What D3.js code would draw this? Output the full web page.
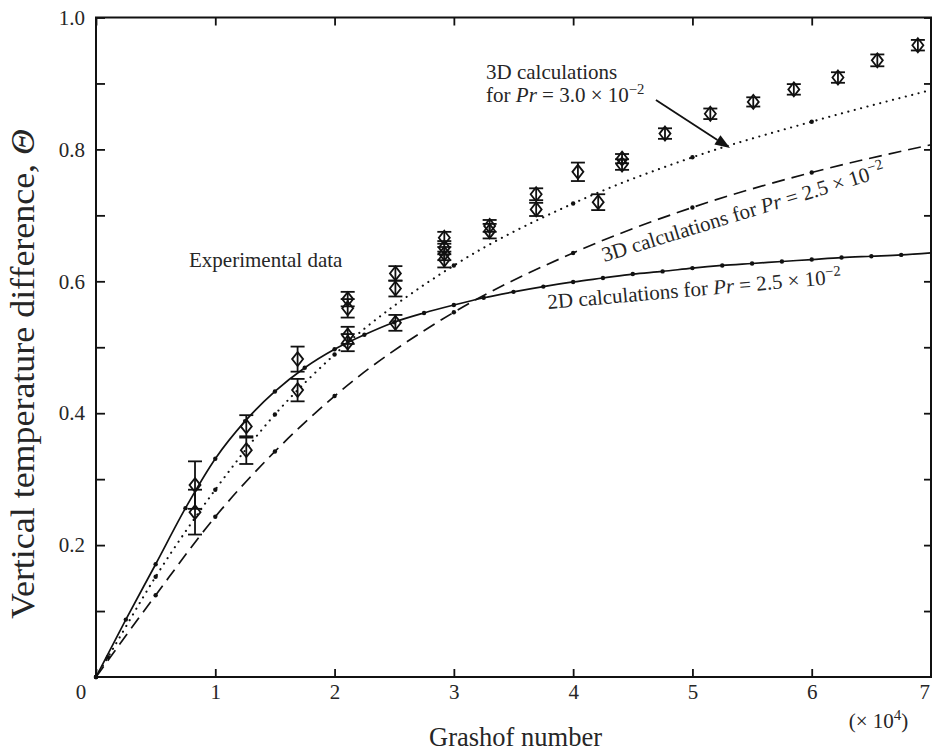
<!DOCTYPE html>
<html><head><meta charset="utf-8">
<script src="https://cdn.jsdelivr.net/npm/d3@7"></script>
<style>
body{margin:0;background:#fff;}
svg{display:block;}
text{font-family:"Liberation Serif","Times New Roman",serif;fill:#262626;}
</style>
</head><body><svg id="chart" width="932" height="751"></svg>
<script>
// ---- data ----
const xTicks = [0,1,2,3,4,5,6,7];
const xTickLabels = ["", "1", "2", "3", "4", "5", "6", "7"];
const yTicks = [0.1,0.2,0.3,0.4,0.5,0.6,0.7,0.8,0.9,1.0];
const yTickLabels = ["", "0.2", "", "0.4", "", "0.6", "", "0.8", "", "1.0"];

// 2D calculations, Pr = 2.5e-2 (solid)
const grSolid = [0,0.25,0.5,0.75,1.0,1.25,1.5,1.75,2.0,2.25,2.5,2.75,3.0,3.25,3.5,3.75,4.0,4.25,4.5,4.75,5.0,5.25,5.5,5.75,6.0,6.25,6.5,6.75,7.0];
const thetaSolid = [0,0.087,0.171,0.256,0.331,0.388,0.433,0.469,0.497,0.519,0.538,0.552,0.564,0.575,0.584,0.592,0.599,0.605,0.611,0.615,0.620,0.624,0.627,0.630,0.633,0.636,0.638,0.640,0.643];
// 3D calculations, Pr = 3.0e-2 (dotted)
const grDotted = [0,0.1,0.5,1.0,1.5,2.0,3.0,4.0,5.0,6.0,7.0];
const thetaDotted = [0,0.03,0.152,0.284,0.398,0.489,0.624,0.718,0.788,0.842,0.89];
// 3D calculations, Pr = 2.5e-2 (dashed)
const grDashed = [0,0.5,1.0,1.5,2.0,3.0,4.0,5.0,6.0,7.0];
const thetaDashed = [0,0.124,0.243,0.342,0.426,0.553,0.643,0.712,0.765,0.807];

// Experimental data (diamonds with error bars)
const expGr = [0.83,0.83,1.26,1.26,1.69,1.69,2.11,2.11,2.11,2.11,2.51,2.51,2.51,2.92,2.92,2.92,2.92,3.30,3.30,3.69,3.69,4.04,4.21,4.41,4.41,4.77,5.15,5.51,5.85,6.22,6.55,6.89];
const expTheta = [0.291,0.250,0.380,0.344,0.482,0.435,0.573,0.559,0.518,0.507,0.612,0.589,0.537,0.666,0.651,0.642,0.633,0.684,0.676,0.732,0.709,0.766,0.720,0.786,0.777,0.824,0.854,0.872,0.891,0.909,0.935,0.958];
const expErr = [0.036,0.034,0.017,0.021,0.019,0.017,0.011,0.014,0.013,0.013,0.011,0.012,0.012,0.009,0.010,0.010,0.012,0.009,0.011,0.009,0.010,0.014,0.012,0.007,0.008,0.008,0.008,0.007,0.008,0.008,0.009,0.008];

// ---- chart ----
const svg = d3.select("#chart");
const x = d3.scaleLinear().domain([0,7]).range([96,931]);
const y = d3.scaleLinear().domain([0,1]).range([677,17.5]);
const FONT = '"Liberation Serif","Times New Roman",serif';

function styleAxis(g){
  g.select(".domain").remove();
  g.attr("font-family", FONT).attr("font-size", 21);
  g.selectAll(".tick line").attr("stroke","#111").attr("stroke-width",1.8);
  g.selectAll(".tick text").attr("fill","#262626");
}

const gb = svg.append("g").attr("transform",`translate(0,${y(0)})`)
  .call(d3.axisBottom(x).tickValues(xTicks).tickSize(-8).tickSizeOuter(0).tickPadding(7)
    .tickFormat((d,i)=>xTickLabels[i]))
  .call(styleAxis);
// last label sits at the window edge: keep it inside
gb.selectAll(".tick text").filter(d=>d===7).attr("text-anchor","end").attr("dx",-1.5);

svg.append("g").attr("transform",`translate(0,${y(1)})`)
  .call(d3.axisTop(x).tickValues(xTicks).tickSize(-8).tickSizeOuter(0).tickFormat(""))
  .call(styleAxis);
svg.append("g").attr("transform",`translate(${x(0)},0)`)
  .call(d3.axisLeft(y).tickValues(yTicks).tickSize(-9).tickSizeOuter(0).tickPadding(11)
    .tickFormat((d,i)=>yTickLabels[i]))
  .call(styleAxis);
svg.append("g").attr("transform",`translate(${x(7)},0)`)
  .call(d3.axisRight(y).tickValues(yTicks).tickSize(-7).tickSizeOuter(0).tickFormat(""))
  .call(styleAxis);

// frame
svg.append("rect").attr("x",x(0)).attr("y",y(1)).attr("width",x(7)-x(0)).attr("height",y(0)-y(1))
  .attr("fill","none").attr("stroke","#111").attr("stroke-width",2);

// corner zero
svg.append("text").attr("x",x(0)-15).attr("y",y(0)+22).attr("text-anchor","middle")
  .attr("font-size",21).text("0");

// (x 10^4)
const mult = svg.append("text").attr("x",x(6.31)).attr("y",y(0)+51).attr("font-size",21);
mult.append("tspan").text("(\u00d7 10");
mult.append("tspan").attr("font-size",15).attr("dy",-8).text("4");
mult.append("tspan").attr("dy",8).text(")");

// axis titles
svg.append("text").attr("x",(x(0)+x(7))/2 + 2).attr("y",746).attr("text-anchor","middle")
  .attr("font-size",26.5).text("Grashof number");
const yl = svg.append("text").attr("transform",`translate(34,${374}) rotate(-90)`)
  .attr("text-anchor","middle").attr("font-size",34)
  .attr("textLength",490).attr("lengthAdjust","spacingAndGlyphs");
yl.append("tspan").text("Vertical temperature difference, ");
yl.append("tspan").attr("font-style","italic").text("\u0398");

// lines
function drawLine(xs, ys, dash, markers){
  const pts = xs.map((g,i)=>[g, ys[i]]);
  const line = d3.line().x(d=>x(d[0])).y(d=>y(d[1])).curve(d3.curveMonotoneX);
  const p = svg.append("path").datum(pts).attr("d",line).attr("fill","none")
    .attr("stroke","#111").attr("stroke-width",1.7);
  if(dash==="dashed") p.attr("stroke-dasharray","13,7");
  if(dash==="dotted") p.attr("stroke-dasharray","0.1,6.5").attr("stroke-linecap","round").attr("stroke-width",2.1);
  svg.append("g").selectAll("circle").data(markers ? pts.slice(0, pts.length-1) : []).join("circle")
    .attr("cx",d=>x(d[0])).attr("cy",d=>y(d[1])).attr("r",2.2).attr("fill","#111");
}
drawLine(grSolid, thetaSolid, "solid", true);
drawLine(grDotted, thetaDotted, "dotted", true);
drawLine(grDashed, thetaDashed, "dashed", true);

// experimental points
const exp = expGr.map((g,i)=>({g, t:expTheta[i], e:expErr[i]}));
const eg = svg.append("g").attr("stroke","#111").attr("fill","none").attr("stroke-width",1.8);
const capW = 7;
exp.forEach(d=>{
  const cx = x(d.g), yt = y(d.t+d.e), yb = y(d.t-d.e), cy = y(d.t);
  eg.append("line").attr("x1",cx).attr("x2",cx).attr("y1",yt).attr("y2",yb);
  eg.append("line").attr("x1",cx-capW).attr("x2",cx+capW).attr("y1",yt).attr("y2",yt);
  eg.append("line").attr("x1",cx-capW).attr("x2",cx+capW).attr("y1",yb).attr("y2",yb);
  eg.append("path").attr("d",`M${cx},${cy-7}L${cx+5.5},${cy}L${cx},${cy+7}L${cx-5.5},${cy}Z`);
});

// annotations
function richText(parent, parts, size){
  parts.forEach(p=>{
    const ts = parent.append("tspan").text(p.t);
    if(p.it) ts.attr("font-style","italic");
    if(p.sup) ts.attr("font-size",size*0.7).attr("dy",-8);
  });
}
svg.append("text").attr("x",x(0.78)).attr("y",y(0.621)).attr("font-size",21).text("Experimental data");

svg.append("text").attr("x",x(3.27)).attr("y",y(0.9067)).attr("font-size",21).text("3D calculations");
const t2 = svg.append("text").attr("x",x(3.27)).attr("y",y(0.8726)).attr("font-size",21);
richText(t2, [{t:"for "},{t:"Pr",it:true},{t:" = 3.0 \u00d7 10"},{t:"\u22122",sup:true}], 21);

const r3 = svg.append("text").attr("font-size",21)
  .attr("transform",`translate(${x(4.26)},${y(0.6293)}) rotate(-17)`);
richText(r3, [{t:"3D calculations for "},{t:"Pr",it:true},{t:" = 2.5 \u00d7 10"},{t:"\u22122",sup:true}], 21);

const r2 = svg.append("text").attr("font-size",21)
  .attr("transform",`translate(${x(3.79)},${y(0.558)}) rotate(-5)`);
richText(r2, [{t:"2D calculations for "},{t:"Pr",it:true},{t:" = 2.5 \u00d7 10"},{t:"\u22122",sup:true}], 21);

// arrow
const a0 = [x(4.694), y(0.875)], a1 = [x(5.315), y(0.802)];
const ang = Math.atan2(a1[1]-a0[1], a1[0]-a0[0]);
const hl = 15, hw = 5.5;
const bx = a1[0]-hl*Math.cos(ang), by = a1[1]-hl*Math.sin(ang);
svg.append("line").attr("x1",a0[0]).attr("y1",a0[1]).attr("x2",bx).attr("y2",by)
  .attr("stroke","#111").attr("stroke-width",1.8);
svg.append("path").attr("d",`M${a1[0]},${a1[1]}L${bx+hw*Math.sin(ang)},${by-hw*Math.cos(ang)}L${bx-hw*Math.sin(ang)},${by+hw*Math.cos(ang)}Z`)
  .attr("fill","#111");
</script>
</body></html>
